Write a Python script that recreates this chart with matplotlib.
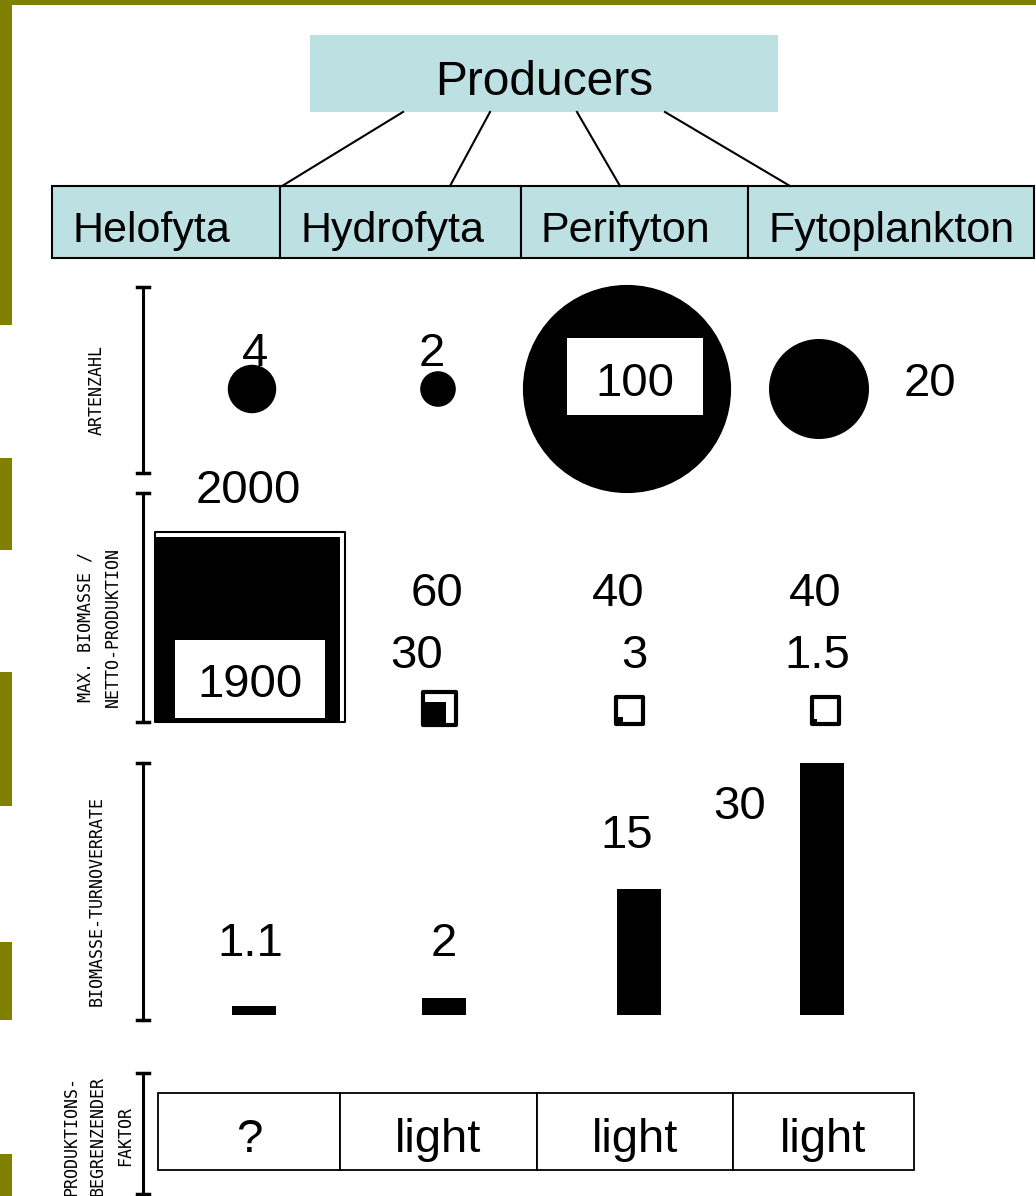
import matplotlib.pyplot as plt
from matplotlib.patches import Rectangle, Circle

# data
groups = ['Helofyta', 'Hydrofyta', 'Perifyton', 'Fytoplankton']
species = [4, 2, 100, 20]
max_biomass = [2000, 60, 40, 40]
net_production = [1900, 30, 3, 1.5]
turnover = [1.1, 2, 15, 30]
limiting = ['?', 'light', 'light', 'light']
row_labels = ['ARTENZAHL', 'MAX. BIOMASSE /\nNETTO-PRODUKTION',
              'BIOMASSE-TURNOVERRATE', 'PRODUKTIONS-\nBEGRENZENDER\nFAKTOR']

OLIVE = '#808000'
BLUE = '#bde0e3'
SANS = 'Liberation Sans'
MONO = 'DejaVu Sans Mono'
NUM = 34

fig = plt.figure(figsize=(10.36, 11.96), dpi=100)
ax = fig.add_axes([0, 0, 1, 1])
ax.set_xlim(0, 1036)
ax.set_ylim(1196, 0)
ax.axis('off')

# olive slide frame
ax.add_patch(Rectangle((0, 0), 1036, 5, color=OLIVE, lw=0))
for y0, y1 in [(0, 325), (458, 550), (672, 806), (942, 1020), (1154, 1196)]:
    ax.add_patch(Rectangle((0, y0), 12, y1 - y0, color=OLIVE, lw=0))

# header
ax.add_patch(Rectangle((310, 35), 468, 77, facecolor=BLUE, edgecolor='none'))
ax.text(544, 95, 'Producers', fontsize=34.5, family=SANS, ha='center', va='baseline')
for (x0, x1) in [(403, 282), (490, 450), (577, 620), (665, 790)]:
    ax.plot([x0, x1], [112, 186], color='black', lw=1.5)

box_edges = [52, 280, 521, 748, 1034]
for i, name in enumerate(groups):
    ax.add_patch(Rectangle((box_edges[i], 186), box_edges[i + 1] - box_edges[i], 72,
                           facecolor=BLUE, edgecolor='black', lw=1.5))
    ax.text(box_edges[i] + 20, 242, name, fontsize=31, family=SANS, va='baseline')

# row brackets and labels
brackets = [(287, 473), (493, 722), (763, 1020), (1073, 1194)]
label_pos = [(97, 390), (99, 627), (97, 901), (98, 1136)]
for (y0, y1), lab, (lx, ly) in zip(brackets, row_labels, label_pos):
    ax.plot([143, 143], [y0, y1], color='black', lw=2.2)
    for y in (y0, y1):
        ax.plot([137, 149], [y, y], color='black', lw=2.5)
    ax.text(lx, ly, lab, family=MONO, fontsize=12, rotation=90,
            ha='center', va='center', linespacing=1.65, multialignment='center')

# species number: circles
circ_x = [252, 438, 627, 819]
circ_y = 389
for i, n in enumerate(species):
    r = 12.43 * n ** 0.46
    ax.add_patch(Circle((circ_x[i], circ_y), r, color='black'))
sp_pos = [(255, 366), (432, 366), (635, 396), (930, 396)]
for i, n in enumerate(species):
    x, y = sp_pos[i]
    if i == 2:
        ax.add_patch(Rectangle((567, 338), 136, 77, facecolor='white', edgecolor='none'))
    ax.text(x, y, str(n), fontsize=NUM, family=SANS, ha='center', va='baseline')

# max biomass / net production: squares
k = 4.25
sq_left = [155, 423, 616, 812]
sq_bottom = [722, 725, 724, 724]
for i in range(len(groups)):
    outer = k * max_biomass[i] ** 0.5
    inner = k * net_production[i] ** 0.5
    lw_out = 1.5 if i == 0 else 3
    ax.add_patch(Rectangle((sq_left[i], sq_bottom[i] - inner), inner, inner,
                           facecolor='black', edgecolor='none'))
    ax.add_patch(Rectangle((sq_left[i], sq_bottom[i] - outer), outer, outer,
                           facecolor='none', edgecolor='black', lw=lw_out,
                           joinstyle='round'))

ax.text(248, 503, f'{max_biomass[0]}', fontsize=NUM, family=SANS, ha='center', va='baseline')
ax.add_patch(Rectangle((175, 640), 150, 78, facecolor='white', edgecolor='none'))
ax.text(250, 697, f'{net_production[0]}', fontsize=NUM, family=SANS, ha='center', va='baseline')
max_x = [437, 618, 815]
prod_x = [417, 634, 817]
for i in range(1, 4):
    ax.text(max_x[i - 1], 606, f'{max_biomass[i]:g}', fontsize=NUM, family=SANS,
            ha='center', va='baseline')
    ax.text(prod_x[i - 1], 668, f'{net_production[i]:g}', fontsize=NUM, family=SANS,
            ha='center', va='baseline')

# turnover: bars
bar_x = [254, 444, 639, 822]
bar_base = 1015
scale = 8.4
ax.bar(bar_x, [-v * scale for v in turnover], bottom=bar_base, width=44, color='black')
to_pos = [(250, 956), (444, 956), (627, 848), (740, 819)]
for (x, y), v in zip(to_pos, turnover):
    ax.text(x, y, f'{v:g}', fontsize=NUM, family=SANS, ha='center', va='baseline')

# limiting factor table
cells = [158, 340, 537, 733, 914]
for i, f in enumerate(limiting):
    ax.add_patch(Rectangle((cells[i], 1093), cells[i + 1] - cells[i], 77,
                           facecolor='white', edgecolor='black', lw=1.3))
    ax.text((cells[i] + cells[i + 1]) / 2, 1152, f, fontsize=NUM, family=SANS,
            ha='center', va='baseline')

fig.savefig('out.png', dpi=100)
